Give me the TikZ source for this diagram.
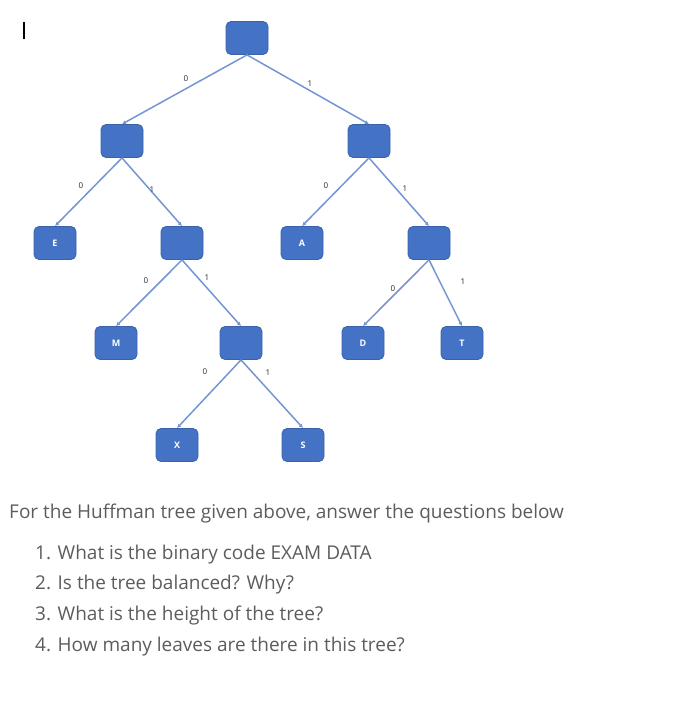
\documentclass[tikz,border=0pt]{standalone}
\usepackage{fontspec}
\setmainfont{Open Sans}
\newfontfamily\boxfont{Open Sans}
\usetikzlibrary{arrows.meta}
\definecolor{boxblue}{HTML}{4472C4}
\definecolor{boxedge}{HTML}{3A62AA}
\definecolor{linkblue}{HTML}{7396D2}
\definecolor{qgray}{HTML}{5C5C5C}
\tikzset{
  hnode/.style={draw=boxedge, line width=0.8pt, fill=boxblue, rounded corners=5pt,
    minimum width=42pt, minimum height=33pt, inner sep=0pt,
    text=white, font=\boxfont\bfseries\fontsize{9}{9}\selectfont},
  link/.style={draw=linkblue, line width=1.5pt, -{Latex[length=4pt,width=4pt]}},
  bit/.style={inner sep=0pt, text=black!85, font=\boxfont\fontsize{8}{8}\selectfont},
  qline/.style={anchor=base west, inner sep=0pt, text=qgray, font=\fontsize{19}{19}\selectfont}
}

\begin{document}
\begin{tikzpicture}[x=1pt,y=-1pt]
\useasboundingbox (0,0) rectangle (690,707);
\draw[line width=1.2pt] (24,22) -- (24,39);
% the tree
\node[hnode] (r) at (247,38) {};
\node[hnode] (n0) at (122,141) {};
\node[hnode] (n1) at (369,141) {};
\node[hnode] (E) at (55,243) {E};
\node[hnode] (n01) at (182,243) {};
\node[hnode] (A) at (302,243) {A};
\node[hnode] (n11) at (429,243) {};
\node[hnode] (M) at (116,343) {M};
\node[hnode] (n011) at (241,343) {};
\node[hnode] (D) at (363,343) {D};
\node[hnode] (T) at (462,343) {T};
\node[hnode] (X) at (177,445) {X};
\node[hnode] (S) at (303,445) {S};
\path[link] (r.south) -- (n0.north);
\path[link] (r.south) -- (n1.north);
\path[link] (n0.south) -- (E.north);
\path[link] (n0.south) -- (n01.north);
\path[link] (n1.south) -- (A.north);
\path[link] (n1.south) -- (n11.north);
\path[link] (n01.south) -- (M.north);
\path[link] (n01.south) -- (n011.north);
\path[link] (n11.south) -- (D.north);
\path[link] (n11.south) -- (T.north);
\path[link] (n011.south) -- (X.north);
\path[link] (n011.south) -- (S.north);
% edge bits
\node[bit] (b0) at (186,79) {0};
\node[bit] (b1) at (310,84) {1};
\node[bit] (b00) at (81,186) {0};
\node[bit] (b01) at (152,190) {1};
\node[bit] (b10) at (326,186) {0};
\node[bit] (b11) at (405,189) {1};
\node[bit] (b010) at (146,281) {0};
\node[bit] (b011) at (207,278) {1};
\node[bit] (b110) at (393,289) {0};
\node[bit] (b111) at (463,282) {1};
\node[bit] (b0110) at (205,372) {0};
\node[bit] (b0111) at (268,373) {1};
% questions
\node[qline] (head) at (9,518) {For the Huffman tree given above, answer the questions below};
\node[qline] (q1) at (35,559) {1. What is the binary code EXAM DATA};
\node[qline] (q2) at (35,589) {2. Is the tree balanced? Why?};
\node[qline] (q3) at (35,620) {3. What is the height of the tree?};
\node[qline] (q4) at (35,651) {4. How many leaves are there in this tree?};
\end{tikzpicture}
\end{document}
